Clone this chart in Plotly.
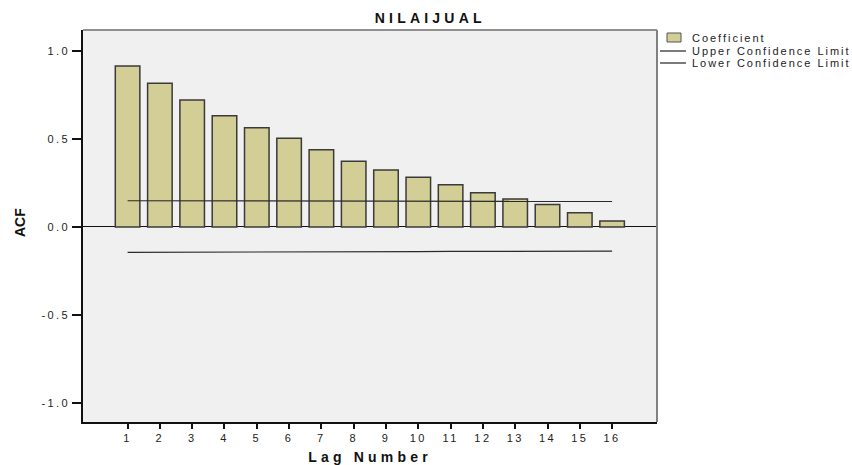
import plotly.graph_objects as go

# ---- data ----
lags = list(range(1, 17))
acf = [0.915, 0.816, 0.722, 0.632, 0.564, 0.504, 0.439, 0.373,
       0.324, 0.282, 0.240, 0.195, 0.159, 0.127, 0.081, 0.034]
upper = [0.149, 0.149, 0.148, 0.148, 0.148, 0.147, 0.147, 0.147,
         0.146, 0.146, 0.146, 0.146, 0.145, 0.145, 0.145, 0.145]
lower = [-0.144, -0.144, -0.143, -0.143, -0.142, -0.142, -0.141, -0.141,
         -0.140, -0.140, -0.139, -0.139, -0.138, -0.138, -0.138, -0.137]
y_ticks = [-1.0, -0.5, 0.0, 0.5, 1.0]
y_ticktext = ["-1.0", "-0.5", "0.0", "0.5", "1.0"]
legend_labels = ["Coefficient", "Upper Confidence Limit", "Lower Confidence Limit"]
title_text = "NILAIJUAL"

W, H = 852, 465
L, R, T, B = 83, 657, 30, 422
BAR = "#d3ce96"
FONT = "Liberation Sans, Arial, sans-serif"

def px(x):
    return (x - L) / (R - L)

def py(y):
    return (B - y) / (B - T)

fig = go.Figure()
fig.add_trace(go.Bar(x=lags, y=acf, width=0.76, name=legend_labels[0],
                     marker=dict(color=BAR, line=dict(color="#3a3a3a", width=1.5)),
                     showlegend=False))
fig.add_trace(go.Scatter(x=lags, y=upper, mode="lines", name=legend_labels[1],
                         line=dict(color="#2a2a2a", width=1.2), showlegend=False))
fig.add_trace(go.Scatter(x=lags, y=lower, mode="lines", name=legend_labels[2],
                         line=dict(color="#2a2a2a", width=1.2), showlegend=False))

shapes = [
    # top and right frame (gray)
    dict(type="line", xref="paper", yref="paper", x0=0, x1=1, y0=1, y1=1,
         line=dict(color="#909090", width=2)),
    dict(type="line", xref="paper", yref="paper", x0=1, x1=1, y0=0, y1=1,
         line=dict(color="#808080", width=2)),
    # legend symbols
    dict(type="rect", xref="paper", yref="paper", x0=px(667), x1=px(681),
         y0=py(42), y1=py(33), fillcolor=BAR, line=dict(color="#555", width=1)),
    dict(type="line", xref="paper", yref="paper", x0=px(660), x1=px(686),
         y0=py(51), y1=py(51), line=dict(color="#222", width=1.2)),
    dict(type="line", xref="paper", yref="paper", x0=px(660), x1=px(686),
         y0=py(63), y1=py(63), line=dict(color="#222", width=1.2)),
]

annotations = []
for lab, yy in zip(legend_labels, [38, 51, 63]):
    annotations.append(dict(text='<span style="letter-spacing:0.18em">' + lab + '</span>',
                            xref="paper", yref="paper", x=px(690), y=py(yy),
                            xanchor="left", yanchor="middle", align="left", showarrow=False,
                            font=dict(family=FONT, size=11, color="#222")))
# y-axis title placed as rotated annotation for exact position
annotations.append(dict(text="<b>ACF</b>", xref="paper", yref="paper", x=px(20), y=py(223),
                        xanchor="center", yanchor="middle", textangle=-90, showarrow=False,
                        font=dict(family=FONT, size=14, color="#111")))

fig.update_layout(
    width=W, height=H,
    margin=dict(l=L, r=W - R, t=T, b=H - B, pad=0),
    paper_bgcolor="white", plot_bgcolor="#f0f0f0",
    font=dict(family=FONT, size=11, color="#222"),
    title=dict(text="<b>" + title_text + "</b>", x=0.505, xref="container", xanchor="center",
               y=1 - 18 / H, yanchor="middle", yref="container",
               font=dict(family=FONT, size=14, color="#111")),
    xaxis=dict(range=[-0.38, 17.39], tickmode="array", tickvals=lags,
               ticktext=[str(v) for v in lags], automargin=False,
               showgrid=False, zeroline=False, showline=True, linecolor="#111", linewidth=1.5,
               ticks="outside", ticklen=5, tickwidth=1.5, tickcolor="#111",
               tickfont=dict(family=FONT, size=11, color="#222"),
               title=dict(text="<b>Lag Number</b>", standoff=9,
                          font=dict(family=FONT, size=14, color="#111"))),
    yaxis=dict(range=[-1.108, 1.119], tickmode="array", tickvals=y_ticks, ticktext=y_ticktext,
               automargin=False,
               showgrid=False, zeroline=True, zerolinecolor="#111", zerolinewidth=1.2,
               showline=True, linecolor="#111", linewidth=1.5,
               ticks="outside", ticklen=9, tickwidth=1.5, tickcolor="#111",
               tickfont=dict(family=FONT, size=11, color="#222")),
    shapes=shapes, annotations=annotations, bargap=0.2,
)

css = (".xtick text, .ytick text{letter-spacing:0.22em}"
       ".gtitle, .g-xtitle text{letter-spacing:0.3em}")
post = ("var s=document.createElement('style');s.textContent='" + css +
        "';document.head.appendChild(s);")
fig.write_html("out.html", post_script=post)
